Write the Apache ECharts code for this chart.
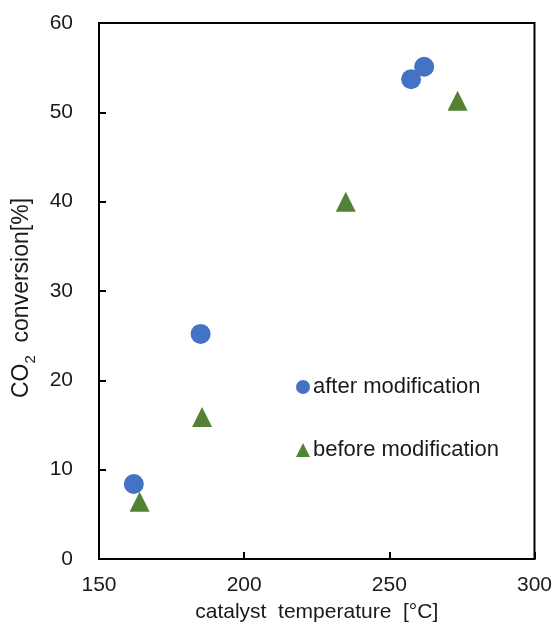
<!DOCTYPE html>
<html><head><meta charset="utf-8">
<script src="https://cdn.jsdelivr.net/npm/echarts@6/dist/echarts.min.js"></script>
<style>html,body{margin:0;padding:0;background:#fff}#c{width:555px;height:630px}</style>
</head><body><div id="c"></div>
<script>
const afterX = [162, 185, 257.5, 262];
const afterY = [8.4, 25.2, 53.7, 55.1];
const beforeX = [164, 185.5, 235, 273.5];
const beforeY = [6.4, 15.9, 40, 51.3];
const xTicks = [150, 200, 250, 300];
const yTicks = [0, 10, 20, 30, 40, 50, 60];

const FONT = 'Liberation Sans, Arial, sans-serif';
const TXT = '#1a1a1a';
const chart = echarts.init(document.getElementById('c'));
chart.setOption({
  animation: false,
  textStyle: {fontFamily: FONT},
  grid: {left: 99, right: 20, top: 23, bottom: 71, show: true, borderColor: '#000', borderWidth: 2, backgroundColor: 'transparent'},
  legend: {
    orient: 'vertical', left: 296, top: 376, itemGap: 41, padding: 0,
    itemWidth: 14, itemHeight: 14,
    textStyle: {fontSize: 22, lineHeight: 22, color: TXT, fontFamily: FONT, padding: [0,0,0,-2]},
    data: [{name: 'after modification', icon: 'circle'}, {name: 'before modification', icon: 'triangle'}]
  },
  xAxis: {
    type: 'value', min: 150, max: 300, interval: 50,
    name: 'catalyst  temperature  [°C]', nameLocation: 'middle', nameGap: 43,
    nameTextStyle: {fontSize: 21, color: TXT, fontFamily: FONT},
    axisLine: {show: true, lineStyle: {color: '#000', width: 2}},
    axisTick: {show: true, inside: true, length: 7, lineStyle: {color: '#000', width: 2}},
    axisLabel: {fontSize: 21, color: TXT, margin: 16, fontFamily: FONT, formatter: v => xTicks.includes(v) ? String(v) : ''},
    splitLine: {show: false}
  },
  yAxis: {
    type: 'value', min: 0, max: 60, interval: 10,
    name: '{a|CO}{s|2}{a|  conversion[%]}{p|}', nameLocation: 'middle', nameGap: 64, nameRotate: 90,
    nameTextStyle: {rich: {
      a: {fontSize: 23, color: TXT, fontFamily: FONT, lineHeight: 26, verticalAlign: 'bottom'},
      s: {fontSize: 15, color: TXT, fontFamily: FONT, lineHeight: 26, verticalAlign: 'bottom', padding: [0,0,-6,0]},
      p: {width: 14, lineHeight: 26}
    }},
    axisLine: {show: true, lineStyle: {color: '#000', width: 2}},
    axisTick: {show: true, inside: true, length: 7, lineStyle: {color: '#000', width: 2}},
    axisLabel: {fontSize: 21, color: TXT, margin: 26, fontFamily: FONT, formatter: v => yTicks.includes(v) ? String(v) : ''},
    splitLine: {show: false}
  },
  series: [
    {name: 'after modification', type: 'scatter', symbol: 'circle', symbolSize: 20,
     itemStyle: {color: '#4472C4', opacity: 1}, data: afterX.map((x, i) => [x, afterY[i]])},
    {name: 'before modification', type: 'scatter', symbol: 'triangle', symbolSize: 20,
     itemStyle: {color: '#548235', opacity: 1}, data: beforeX.map((x, i) => [x, beforeY[i]])}
  ]
});
</script></body></html>
